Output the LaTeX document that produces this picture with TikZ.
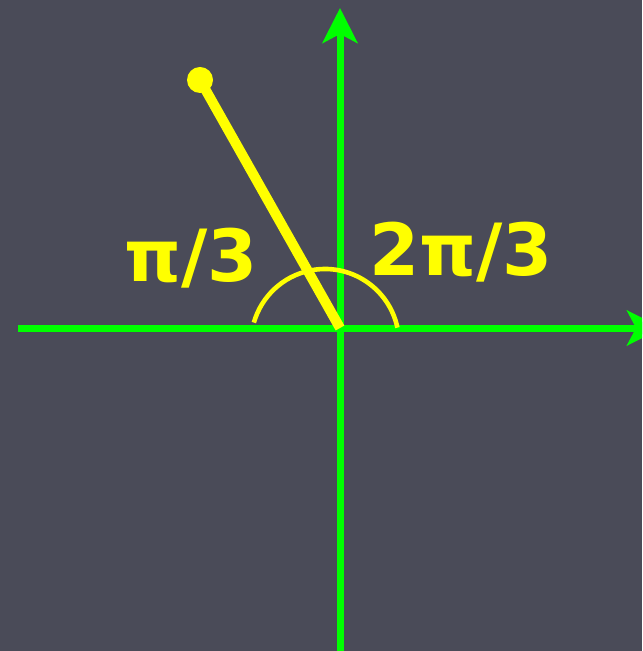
\documentclass[tikz,border=0pt]{standalone}
\usepackage{fontspec}
\setmainfont{DejaVu Sans}
\usetikzlibrary{arrows.meta}
\definecolor{bg}{RGB}{74,75,88}
\definecolor{axisgreen}{RGB}{0,255,0}
\definecolor{ray}{RGB}{255,255,0}

\begin{document}
\begin{tikzpicture}[x=0.5pt, y=-0.5pt, every node/.style={font=\bfseries\fontsize{36}{40}\selectfont, text=ray}, >={Stealth[length=17.5pt,width=17.5pt,inset=4.5pt]}]
	\fill[bg] (0,0) rectangle (642,651);
	\clip (0,0) rectangle (642,651);
	\coordinate (O) at (340,328);
	\coordinate (xstart) at (18,328);
	\coordinate (xend) at (662,328);
	\coordinate (ybot) at (340,651);
	\coordinate (ytop) at (340,8);
	\coordinate (C) at (325,343);
	\draw[->, axisgreen, line width=3.5pt] (xstart) -- (xend);
	\draw[->, axisgreen, line width=3.5pt] (ybot) -- (ytop);
	\node[circle, fill=ray, inner sep=0pt, minimum size=13pt] (dot) at (200,80) {};
	\draw[ray, line width=5pt] (O) -- (dot.center);
	\draw[ray, line width=2.3pt] ([shift={(12:37pt)}]C) arc[start angle=12, end angle=164, radius=37pt];
	\node (third) at (191,258) {π/3};
	\node (twothirds) at (461,252) {2π/3};
\end{tikzpicture}
\end{document}
